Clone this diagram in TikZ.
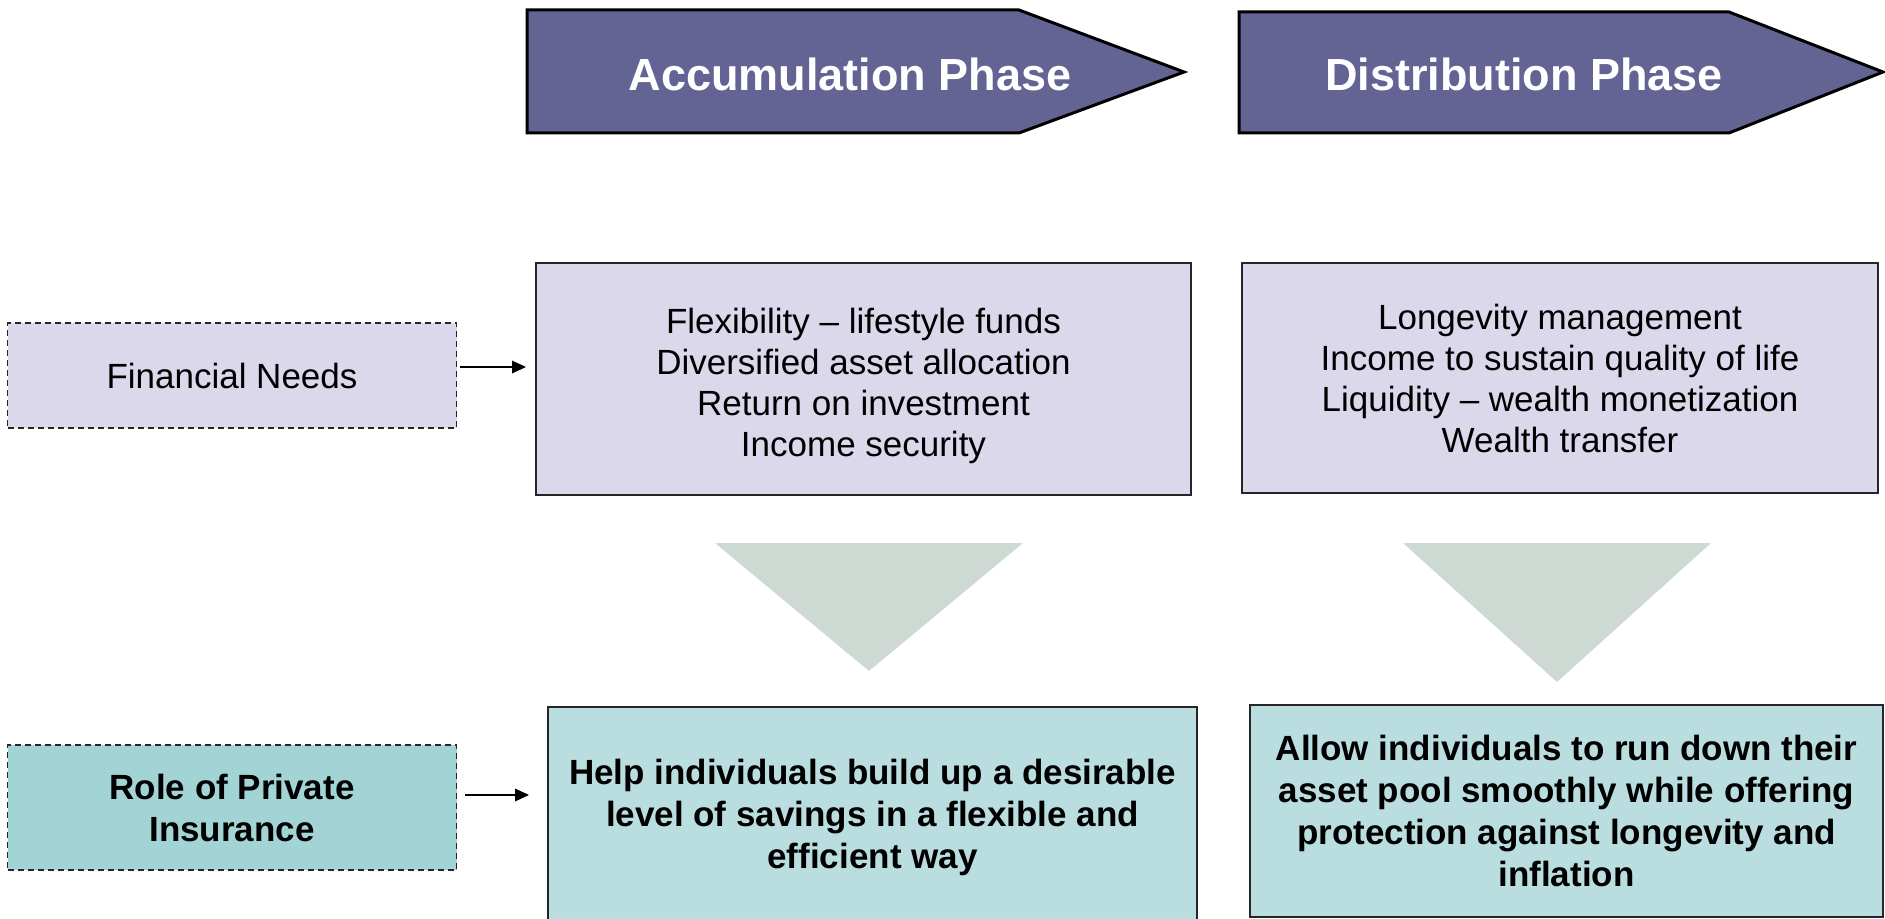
\documentclass[tikz,border=0pt]{standalone}
\usepackage{fontspec}
\setmainfont{Liberation Sans}
\usetikzlibrary{arrows.meta}

\definecolor{phaseblue}{RGB}{99,99,148}
\definecolor{needlav}{RGB}{218,216,234}
\definecolor{roleteal}{RGB}{162,212,214}
\definecolor{helpteal}{RGB}{186,222,224}
\definecolor{trigrey}{RGB}{206,217,212}

\tikzset{
  phase/.style={draw=black, line width=1.5pt, fill=phaseblue},
  phasetext/.style={text=white, font=\fontsize{22.5}{27}\selectfont\bfseries},
  needbox/.style={draw=black!85, line width=0.8pt, fill=needlav, align=center,
    inner sep=0pt, font=\fontsize{17.5}{20.5}\selectfont},
  helpbox/.style={draw=black!85, line width=0.8pt, fill=helpteal, align=center,
    inner sep=0pt, font=\fontsize{17.5}{21}\selectfont\bfseries},
  sidebox/.style={draw=black!85, line width=0.8pt, dash pattern=on 3pt off 2pt,
    align=center, inner sep=0pt, minimum width=224.5pt},
  arr/.style={line width=1.3pt, -{Triangle[length=7pt,width=6pt]}}
}

\begin{document}
\begin{tikzpicture}[x=0.5pt,y=-0.5pt]
  \useasboundingbox (0,0) rectangle (1885,919);

  % phase arrows on top
  \draw[phase] (527,10) -- (1019,10) -- (1184,72) -- (1019,133) -- (527,133) -- cycle;
  \node[phasetext] (accph) at (850,74) {Accumulation Phase};
  \draw[phase] (1239,12) -- (1729,12) -- (1883,72) -- (1729,133) -- (1239,133) -- cycle;
  \node[phasetext] (distph) at (1524,74) {Distribution Phase};

  % financial needs row
  \node[sidebox, fill=needlav, minimum height=52.5pt, font=\fontsize{17.5}{20.5}\selectfont]
    (fneeds) at (232,375.5) {Financial Needs};
  \node[needbox, minimum width=327.5pt, minimum height=116pt] (accneeds) at (863.5,379) {};
  \node[font=\fontsize{17.5}{20.5}\selectfont, align=center] (acclist) at (863.5,386)
    {Flexibility -- lifestyle funds\\Diversified asset allocation\\Return on investment\\Income security};
  \node[needbox, minimum width=318pt, minimum height=115pt] (distneeds) at (1560,378)
    {Longevity management\\Income to sustain quality of life\\Liquidity -- wealth monetization\\Wealth transfer};
  \draw[arr, shorten <=1.5pt, shorten >=4.5pt] ([yshift=4.25pt]fneeds.east) -- ([yshift=4.25pt]fneeds.east -| accneeds.west);

  % grey triangles
  \fill[trigrey] (715,543) -- (1023,543) -- (869,671) -- cycle;
  \fill[trigrey] (1403,543) -- (1711,543) -- (1557,682) -- cycle;

  % role of private insurance row
  \node[sidebox, fill=roleteal, minimum height=62.5pt, font=\fontsize{17.5}{21}\selectfont\bfseries]
    (role) at (232,807.5) {Role of Private\\Insurance};
  \node[helpbox, minimum width=324.5pt, minimum height=110pt] (acchelp) at (872.5,817)
    {Help individuals build up a desirable\\level of savings in a flexible and\\efficient way};
  \node[helpbox, minimum width=316.5pt, minimum height=106pt] (disthelp) at (1566.5,811)
    {Allow individuals to run down their\\asset pool smoothly while offering\\protection against longevity and\\inflation};
  \draw[arr, shorten <=4pt, shorten >=9pt] ([yshift=6.25pt]role.east) -- ([yshift=6.25pt]role.east -| acchelp.west);
\end{tikzpicture}
\end{document}
